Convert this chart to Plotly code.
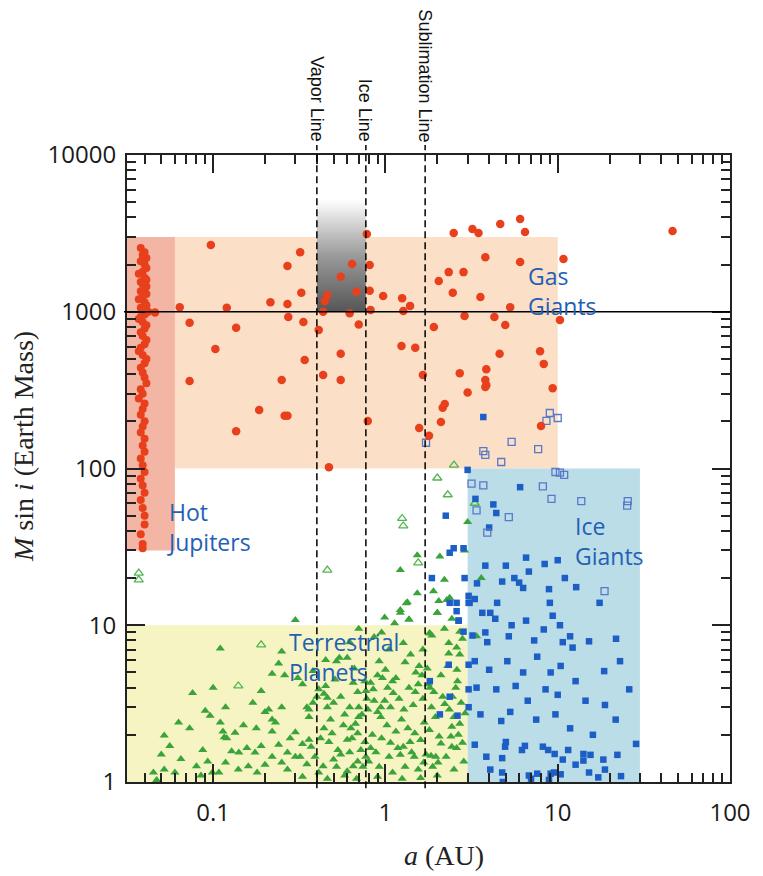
import math
import plotly.graph_objects as go

# ---------------------------------------------------------------- data
# semi-major axis a (AU) and minimum mass M sin i (Earth masses)

# hot Jupiters piled up near the star
hot_jupiters = [
    (0.038, 2550), (0.040, 2400), (0.039, 2300), (0.041, 2200), (0.038, 2100), (0.040, 2000),
    (0.041, 1900), (0.039, 1800), (0.037, 1750), (0.040, 1650), (0.041, 1600), (0.038, 1550),
    (0.039, 1500), (0.041, 1450), (0.040, 1400), (0.038, 1350), (0.041, 1300), (0.039, 1250),
    (0.037, 1200), (0.040, 1150), (0.041, 1100), (0.038, 1060), (0.039, 1020), (0.041, 990),
    (0.042, 1000), (0.040, 960), (0.038, 930), (0.037, 900), (0.039, 860), (0.041, 820),
    (0.040, 780), (0.038, 740), (0.039, 700), (0.041, 660), (0.040, 620), (0.038, 590),
    (0.037, 560), (0.039, 530), (0.041, 500), (0.040, 470), (0.038, 440), (0.039, 410),
    (0.040, 380), (0.041, 350), (0.038, 320), (0.039, 300), (0.037, 280), (0.040, 260),
    (0.039, 240), (0.038, 220), (0.040, 200), (0.039, 185), (0.038, 170), (0.040, 155),
    (0.039, 140), (0.040, 128), (0.038, 116), (0.039, 105), (0.040, 95), (0.038, 86),
    (0.039, 78), (0.040, 70), (0.038, 63), (0.039, 56), (0.040, 50), (0.040, 44),
    (0.038, 38), (0.039, 33), (0.039, 31),
]

# giant planets (filled circles)
giants = [
    (2.49, 3180), (3.2, 3370), (3.47, 3180), (4.64, 3630), (6.05, 3900), (6.46, 3230),
    (46.4, 3270), (3.8, 2230), (6.05, 2080), (10.8, 2170), (2.33, 1790), (2.84, 1790),
    (2.04, 1570), (1.25, 1220), (1.39, 1090), (1.27, 1010), (2.46, 1320), (3.56, 1240),
    (5.3, 1070), (2.88, 940), (4.29, 925), (4.96, 822), (10.3, 885), (1.91, 800),
    (0.097, 2670), (0.32, 2400), (0.27, 1960), (0.325, 1320), (0.215, 1150), (0.27, 1120),
    (0.064, 1070), (0.12, 1060), (0.073, 850), (0.136, 790), (0.273, 925), (0.334, 860),
    (0.64, 2020), (0.55, 1670), (0.68, 1340), (0.46, 1280), (0.445, 1170), (0.78, 3130),
    (0.81, 1990), (0.81, 1360), (0.97, 1260), (0.82, 1025), (0.62, 980), (0.7, 830),
    (0.435, 1000), (0.41, 765), (0.046, 990),
    (0.073, 361), (0.103, 578), (0.136, 173), (0.185, 236), (0.25, 367), (0.26, 217),
    (0.27, 217), (0.34, 492), (0.435, 395), (0.55, 367), (0.55, 540), (0.79, 201),
    (0.47, 102), (1.24, 605), (1.49, 590), (1.65, 395), (1.79, 162), (2.15, 244),
    (2.7, 405), (3.0, 305), (3.85, 430), (3.85, 340), (4.6, 540), (7.9, 560),
    (8.3, 465), (9.35, 325), (2.21, 258), (2.1, 198), (1.57, 181), (8.0, 187),
    (3.8, 331), (3.8, 367),
]

# low-mass planets (filled triangles)
terrestrial = [
    (0.3, 10.8), (0.11, 7.1), (0.076, 3.7), (0.1, 4.0), (0.19, 3.8), (0.24, 5.7),
    (0.22, 4.9), (0.26, 4.8), (0.31, 4.6), (0.33, 4.2), (0.063, 2.4), (0.073, 2.2),
    (0.052, 1.98), (0.056, 1.7), (0.09, 2.85), (0.096, 2.65), (0.118, 3.0), (0.11, 2.4),
    (0.114, 2.1), (0.116, 1.93), (0.134, 2.06), (0.178, 2.2), (0.2, 2.8), (0.21, 2.9),
    (0.25, 3.0), (0.23, 2.4), (0.22, 2.1), (0.3, 2.08), (0.35, 3.0), (0.36, 2.6),
    (0.38, 3.2), (0.41, 3.9), (0.44, 3.65), (0.46, 3.45), (0.46, 3.0), (0.48, 2.5),
    (0.51, 4.5), (0.52, 5.9), (0.54, 6.2), (0.6, 6.2), (0.66, 5.3), (0.65, 4.3),
    (0.62, 3.0), (0.7, 3.0), (0.73, 2.7), (0.7, 2.6), (0.77, 3.8), (0.69, 3.75),
    (0.76, 4.4), (0.82, 4.3), (0.86, 8.4), (0.92, 5.9), (0.96, 4.6), (1.1, 4.4),
    (1.03, 4.0), (1.11, 3.7), (1.32, 13.8), (1.22, 12.0), (0.99, 11.2), (1.13, 10.3),
    (1.37, 10.9), (1.27, 7.7), (1.3, 5.8), (1.37, 4.0), (1.49, 3.75), (1.55, 4.2),
    (1.81, 4.0), (1.81, 8.9), (1.86, 8.6), (2.0, 12.0), (2.33, 7.7), (2.33, 6.6),
    (2.59, 7.2), (1.57, 5.5), (1.63, 4.8), (1.77, 4.2), (1.91, 3.75), (2.15, 3.5),
    (2.21, 3.15), (2.56, 4.0), (2.62, 4.4), (2.9, 2.75), (2.5, 2.6), (2.43, 2.25),
    (2.7, 2.35), (2.4, 1.95), (2.43, 1.68), (2.59, 1.65), (2.8, 1.78), (2.1, 1.76),
    (2.02, 1.33), (1.96, 1.45), (1.84, 1.47), (1.67, 1.33), (1.47, 1.45), (1.39, 1.8),
    (1.27, 1.68), (1.22, 1.49), (1.07, 1.78), (0.94, 2.6), (0.9, 2.8), (0.94, 3.0),
    (0.99, 3.3), (0.86, 3.3), (0.79, 2.9), (0.63, 2.2), (0.69, 2.05), (0.6, 1.86),
    (0.76, 1.8), (0.82, 1.65), (0.77, 1.45), (0.69, 1.35), (0.65, 1.26), (0.6, 1.17),
    (0.53, 1.6), (0.5, 1.39), (0.435, 1.26), (0.41, 1.15), (0.37, 1.68), (0.36, 1.86),
    (0.32, 1.45), (0.3, 1.45), (0.27, 1.54), (0.25, 1.33), (0.24, 1.73), (0.22, 1.45),
    (0.2, 1.29), (0.18, 1.15), (0.16, 1.26), (0.175, 1.54), (0.157, 1.65), (0.141, 1.54),
    (0.128, 1.57), (0.118, 1.33), (0.108, 1.15), (0.099, 1.15), (0.093, 1.35), (0.087, 1.6),
    (0.08, 1.26), (0.06, 1.15), (0.052, 1.2), (0.047, 1.03),
    (0.28, 1.9), (0.33, 1.75), (0.35, 1.3), (0.39, 1.45), (0.42, 1.9), (0.44, 2.2),
    (0.47, 1.8), (0.49, 2.05), (0.52, 1.25), (0.55, 1.5), (0.57, 2.3), (0.58, 1.1),
    (0.62, 1.55), (0.64, 1.9), (0.67, 2.35), (0.72, 1.6), (0.74, 1.25), (0.8, 1.35),
    (0.84, 2.0), (0.88, 1.55), (0.92, 1.25), (0.95, 1.9), (1.02, 2.3), (1.05, 1.45),
    (1.1, 1.15), (1.15, 2.1), (1.18, 1.65), (1.24, 2.5), (1.3, 1.25), (1.35, 2.2),
    (1.42, 1.55), (1.48, 2.05), (1.55, 1.2), (1.6, 1.85), (1.68, 2.4), (1.72, 1.5),
    (1.8, 2.15), (1.88, 1.25), (1.95, 2.6), (2.05, 1.95), (2.25, 1.45), (2.35, 2.9),
    (2.5, 1.2), (2.65, 2.0), (2.75, 3.2), (2.85, 1.35), (0.36, 2.9), (0.4, 3.5),
    (0.45, 4.1), (0.5, 3.2), (0.55, 3.5), (0.58, 2.7), (0.78, 3.4), (0.85, 3.9),
    (0.9, 4.8), (1.0, 5.2), (1.07, 3.0), (1.15, 4.6), (1.2, 3.4), (1.28, 2.9),
    (1.45, 3.1), (1.5, 5.0), (1.65, 3.4), (1.75, 5.3), (1.85, 3.0), (2.1, 4.8),
    (2.3, 5.5), (2.45, 3.5), (2.6, 5.2), (2.7, 6.5), (2.8, 8.2), (2.2, 9.5),
    (1.65, 7.0), (1.4, 6.5), (1.05, 7.0), (0.95, 9.0), (0.7, 9.5), (0.62, 7.8),
    (0.45, 6.0), (0.38, 5.1), (0.25, 6.8), (0.22, 2.5), (0.19, 1.7), (0.15, 2.3),
    (0.14, 1.2), (0.12, 1.9), (0.085, 1.1), (0.065, 1.4), (0.045, 1.15), (0.05, 1.5),
    (0.17, 3.2), (0.27, 1.2), (0.33, 1.08), (0.46, 1.05), (0.68, 1.05), (0.9, 1.08),
    (1.25, 1.05), (1.6, 1.06), (2.0, 1.1),
    (1.22, 22.5), (1.53, 28), (2.07, 27.5), (2.88, 30), (2.2, 19.5), (1.9, 16.5),
    (1.53, 16), (1.34, 14), (2.27, 14.5), (2.04, 14.3), (2.36, 15), (3.6, 20),
    (3.0, 45.5), (2.43, 11), (2.0, 12), (1.22, 12.5), (1.37, 10.9), (2.7, 9.1),
    (3.38, 8.5), (1.8, 8.9),
]

# low-mass planets, open triangles
terrestrial_open = [
    (0.037, 19.5), (0.037, 21.5), (0.19, 7.5), (0.14, 4.1), (0.46, 22.5),
    (2.5, 105), (2.0, 87), (2.3, 68), (1.25, 48), (1.27, 43), (1.55, 25), (3.3, 60),
]

# Neptune-class planets (filled squares)
ice_giants = [
    (3.7, 213), (3.0, 98), (6.05, 76), (3.33, 64), (4.23, 59), (4.4, 52), (2.24, 50),
    (4.0, 42), (2.49, 31), (2.36, 29), (2.84, 31), (6.55, 27), (8.4, 24.6), (10, 26),
    (3.8, 24), (5.0, 24), (6.8, 22), (5.6, 20), (5.97, 18.7), (4.76, 19), (6.3, 17.3),
    (11, 20), (12.8, 17.5), (3.4, 18.5), (8.9, 17), (2.88, 20), (1.86, 20), (3.04, 15.4),
    (3.3, 14.7), (3.04, 13.9), (2.36, 13.9), (4.45, 13.9), (9, 13.9), (17.5, 13.9),
    (2.59, 12.3), (3.65, 12), (4.06, 12), (4.34, 11), (9.35, 11.5), (2.66, 10.7),
    (6.55, 10.7), (8.3, 9.4), (10.3, 10), (3.8, 9.0), (5.2, 8.5), (11.8, 8.5),
    (3.2, 8.6), (3.9, 7.8), (5.4, 10), (7.3, 8.0), (10.7, 7.8), (12.2, 7.2), (15.2, 7.9),
    (21.8, 8.2), (3.3, 5.9), (4.0, 5.2), (5.1, 5.9), (6.3, 5.0), (7.6, 6.3), (9.1, 5.0),
    (10.4, 5.5), (12.7, 4.4), (18.6, 5.1), (23, 5.9), (3.38, 4.0), (4.4, 3.9), (5.7, 4.1),
    (6.7, 3.3), (8.5, 3.9), (10, 3.6), (14.5, 3.3), (18.8, 3.1), (26, 3.9), (3.56, 2.7),
    (4.7, 2.45), (5.3, 2.8), (7.5, 2.5), (9.7, 2.7), (11.8, 2.2), (16, 2.0), (21.7, 2.5),
    (3.3, 1.73), (3.85, 1.45), (5.0, 1.8), (6.2, 1.6), (8.8, 1.6), (10.7, 1.39),
    (12.7, 1.29), (18.4, 1.39), (22.2, 1.49), (4.06, 1.2), (7.0, 1.05), (9.5, 1.15),
    (15.2, 1.15), (17.2, 1.07), (23.3, 1.09), (6.45, 1.7), (8.2, 1.68), (9.6, 1.51),
    (11.5, 1.6), (14.1, 1.51), (15.5, 1.49), (14.1, 1.37), (18.8, 1.2), (28.5, 1.75),
    (6.8, 1.1), (7.6, 1.13), (9.1, 1.13), (10.4, 1.12), (8.9, 1.03), (4.95, 1.68),
    (4.76, 1.42), (4.76, 1.15), (4.8, 1.0), (2.33, 5.6), (3.04, 5.6), (1.81, 4.4),
    (2.36, 3.5), (3.04, 3.9), (2.07, 2.7), (2.62, 2.65), (3.04, 3.0), (2.59, 13.9),
    (3.08, 13.9), (2.66, 10.7), (2.84, 9.1),
]

# Neptune-class planets, open squares
ice_giants_open = [
    (1.72, 146), (3.7, 129), (3.8, 122), (5.4, 148), (7.7, 133), (9, 226), (8.6, 201),
    (10, 210), (4.7, 110), (9.7, 95), (10.3, 94), (10.9, 91), (3.16, 80), (3.7, 78),
    (8.2, 77), (9.2, 64), (13.7, 62), (25.5, 62), (25.3, 58), (5.2, 49), (3.38, 54),
    (3.9, 39), (18.7, 16.5),
]

# condensation fronts in the disk (AU)
front_names = ["Vapor Line", "Ice Line", "Sublimation Line"]
front_a = [0.4, 0.77, 1.7]

# mass dividing line (Earth masses)
divider_mass = 1000

# planet-type zones: (a_min, a_max, M_min, M_max)
a_lo = 10 ** -1.5
zone_gas = (a_lo, 10, 100, 3000)
zone_hot = (a_lo, 0.06, 30, 3000)
zone_terrestrial = (a_lo, 3, 1, 10)
zone_ice = (3, 30, 1, 100)
zone_icy_giant = (0.4, 0.77, 1000, 5200)

x_ticks = [0.1, 1, 10, 100]
x_ticktext = ["0.1", "1", "10", "100"]
y_ticks = [1, 10, 100, 1000, 10000]
y_ticktext = ["1", "10", "100", "1000", "10000"]


def unzip(pairs):
    return [p[0] for p in pairs], [p[1] for p in pairs]


def box_trace(zone, color):
    x0, x1, y0, y1 = zone
    return go.Scatter(
        x=[x0, x1, x1, x0, x0], y=[y0, y0, y1, y1, y0], mode="lines",
        fill="toself", fillcolor=color, line=dict(width=0), hoverinfo="skip",
    )


fig = go.Figure()

# background zones
fig.add_trace(box_trace(zone_gas, "#fbdfc6"))
fig.add_trace(box_trace(zone_hot, "#f4b6a4"))
fig.add_trace(box_trace(zone_terrestrial, "#f5f4c2"))
fig.add_trace(box_trace(zone_ice, "#badde8"))

# shaded band between the vapor and ice lines
gx0, gx1, gy0, gy1 = zone_icy_giant
fig.add_trace(go.Scatter(
    x=[gx0, gx1, gx1, gx0, gx0], y=[gy0, gy0, gy1, gy1, gy0], mode="lines",
    fill="toself", line=dict(width=0), hoverinfo="skip",
    fillgradient=dict(type="vertical",
                      colorscale=[[0, "#565656"], [0.5, "#9a9a9a"], [1, "#ffffff"]]),
))

# planets
tx, ty = unzip(terrestrial)
fig.add_trace(go.Scatter(x=tx, y=ty, mode="markers",
                         marker=dict(symbol="triangle-up", size=8, color="#3aa33a", line=dict(width=0))))
tox, toy = unzip(terrestrial_open)
fig.add_trace(go.Scatter(x=tox, y=toy, mode="markers",
                         marker=dict(symbol="triangle-up-open", size=8, color="#52b552", line=dict(width=1.3))))
ix, iy = unzip(ice_giants)
fig.add_trace(go.Scatter(x=ix, y=iy, mode="markers",
                         marker=dict(symbol="square", size=6.5, color="#1c5ec6", line=dict(width=0))))
iox, ioy = unzip(ice_giants_open)
fig.add_trace(go.Scatter(x=iox, y=ioy, mode="markers",
                         marker=dict(symbol="square-open", size=7, color="#5a78c8", line=dict(width=1.3))))
hx, hy = unzip(hot_jupiters)
fig.add_trace(go.Scatter(x=hx, y=hy, mode="markers",
                         marker=dict(symbol="circle", size=8, color="#e8401c", line=dict(width=0))))
gx, gy = unzip(giants)
fig.add_trace(go.Scatter(x=gx, y=gy, mode="markers",
                         marker=dict(symbol="circle", size=8.5, color="#e8401c", line=dict(width=0))))

# 1000 Earth-mass divider
fig.add_shape(type="line", xref="paper", yref="y", x0=-0.005, x1=1.0,
              y0=divider_mass, y1=divider_mass, line=dict(color="black", width=1.5),
              layer="above")

annotations = []
for name, a in zip(front_names, front_a):
    fig.add_shape(type="line", xref="x", yref="paper", x0=a, x1=a,
                  y0=-0.01, y1=1.016, line=dict(color="black", width=1.5, dash="7px,4px"),
                  layer="above")
    annotations.append(dict(
        x=math.log10(a), y=1, xref="x", yref="paper", text=name, showarrow=False,
        textangle=90, xanchor="center", yanchor="bottom", yshift=11,
        font=dict(family="Liberation Sans, Arial", size=18, color="#111"),
    ))

label_font = dict(family="Open Sans", size=23, color="#2360b4")
zone_labels = [
    ("Gas<br>Giants", 0.822, 3.135),
    ("Hot<br>Jupiters", -1.276, 1.630),
    ("Ice<br>Giants", 1.092, 1.540),
    ("Terrestrial<br>Planets", -0.563, 0.795),
]
for txt, lx, ly in zone_labels:
    annotations.append(dict(x=lx, y=ly, xref="x", yref="y", text=txt, showarrow=False,
                            xanchor="left", yanchor="middle", align="left",
                            borderpad=0, font=label_font))

title_font = dict(family="Liberation Serif, Times New Roman", size=28, color="#222")
annotations.append(dict(x=0.525, y=-(855 - 782) / 627, xref="paper", yref="paper",
                        text="<i>a</i> (AU)", showarrow=False, font=title_font,
                        xanchor="center", yanchor="middle"))
annotations.append(dict(x=-(127 - 22) / 609, y=(782 - 447) / 627, xref="paper", yref="paper",
                        text="<i>M</i> sin <i>i</i> (Earth Mass)", textangle=-90,
                        showarrow=False, font=title_font, xanchor="center", yanchor="middle"))

axis_common = dict(
    type="log", showgrid=False, zeroline=False, showline=True, linecolor="#222",
    linewidth=2, mirror="ticks", ticks="inside", ticklen=18, tickwidth=2, tickcolor="#222",
    minor=dict(ticks="inside", ticklen=9, tickwidth=1.5, tickcolor="#222", dtick="D1"),
    tickfont=dict(family="Open Sans", size=24, color="#1a1a1a"),
)

fig.update_layout(
    width=763, height=876,
    margin=dict(l=127, r=27, t=155, b=94),
    paper_bgcolor="white", plot_bgcolor="white",
    showlegend=False,
    xaxis=dict(axis_common, range=[-1.5, 2], tickvals=x_ticks, ticktext=x_ticktext,
               ticklabelstandoff=8),
    yaxis=dict(axis_common, range=[0, 4], tickvals=y_ticks, ticktext=y_ticktext,
               ticklabelstandoff=4),
    annotations=annotations,
)

fig.write_html("out.html")
